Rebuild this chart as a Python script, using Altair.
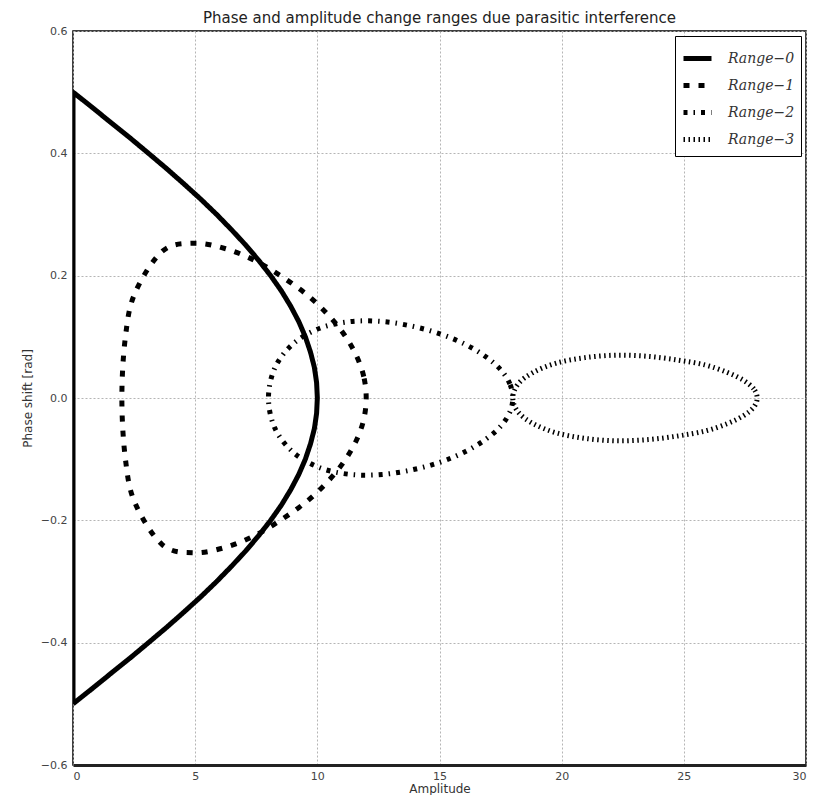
import altair as alt
import pandas as pd

names = ["Range\u22120", "Range\u22121", "Range\u22122", "Range\u22123"]

amp0 = [0.00, 0.79, 1.56, 2.34, 3.09, 3.83, 4.54, 5.23, 5.88, 6.49, 7.07, 7.60, 8.09, 8.53, 8.91, 9.24, 9.51, 9.72, 9.88, 9.97,
        10.00,
        9.97, 9.88, 9.72, 9.51, 9.24, 8.91, 8.53, 8.09, 7.60, 7.07, 6.49, 5.88, 5.23, 4.54, 3.83, 3.09, 2.34, 1.56, 0.79, 0.00,
        0.00]
ph0 = [-0.500, -0.475, -0.450, -0.425, -0.400, -0.375, -0.350, -0.325, -0.300, -0.275, -0.250, -0.225, -0.200, -0.175, -0.150, -0.125, -0.100, -0.075, -0.050, -0.025,
       0.000,
       0.025, 0.050, 0.075, 0.100, 0.125, 0.150, 0.175, 0.200, 0.225, 0.250, 0.275, 0.300, 0.325, 0.350, 0.375, 0.400, 0.425, 0.450, 0.475, 0.500,
       -0.500]

amp1 = [12.00, 11.90, 11.60, 11.11, 10.44, 9.60, 8.60, 7.48, 6.25, 4.95, 3.66, 2.53, 2.14, 2.00, 2.14, 2.53, 3.66, 4.95, 6.25, 7.48, 8.60, 9.60, 10.44, 11.11, 11.60, 11.90]
ph1 = [0.000, 0.035, 0.069, 0.103, 0.136, 0.168, 0.197, 0.224, 0.244, 0.253, 0.240, 0.171, 0.098, 0.000, -0.098, -0.171, -0.240, -0.253, -0.244, -0.224, -0.197, -0.168, -0.136, -0.103, -0.069, -0.035]

amp2 = [18.00, 17.88, 17.51, 16.91, 16.09, 15.09, 13.93, 12.66, 11.36, 10.10, 9.02, 8.27, 8.00, 8.27, 9.02, 10.10, 11.36, 12.66, 13.93, 15.09, 16.09, 16.91, 17.51, 17.88]
ph2 = [0.000, 0.023, 0.046, 0.067, 0.087, 0.104, 0.117, 0.125, 0.125, 0.114, 0.089, 0.050, 0.000, -0.050, -0.089, -0.114, -0.125, -0.125, -0.117, -0.104, -0.087, -0.067, -0.046, -0.023]

amp3 = [28.00, 27.86, 27.44, 26.77, 25.87, 24.77, 23.54, 22.24, 20.95, 19.78, 18.84, 18.22, 18.00, 18.22, 18.84, 19.78, 20.95, 22.24, 23.54, 24.77, 25.87, 26.77, 27.44, 27.86]
ph3 = [0.000, 0.015, 0.029, 0.042, 0.054, 0.062, 0.068, 0.070, 0.066, 0.057, 0.042, 0.023, 0.000, -0.023, -0.042, -0.057, -0.066, -0.070, -0.068, -0.062, -0.054, -0.042, -0.029, -0.015]

x_ticks = [0, 5, 10, 15, 20, 25, 30]
y_ticks = [-0.6, -0.4, -0.2, 0.0, 0.2, 0.4, 0.6]


def frame(name, amps, phs):
    return pd.DataFrame({"series": name, "amp": amps, "phase": phs, "idx": list(range(len(amps)))})


df0 = frame(names[0], amp0, ph0)
df_loops = pd.concat([frame(names[1], amp1, ph1), frame(names[2], amp2, ph2), frame(names[3], amp3, ph3)])

dash_scale = alt.Scale(domain=names, range=[[1, 0], [6, 9], [4, 6, 1.5, 6], [1.5, 3.5]])
legend = alt.Legend(
    title=None, orient="top-right", offset=5, strokeColor="black", fillColor="white",
    padding=6, rowPadding=0, symbolType="stroke", symbolSize=784, symbolStrokeWidth=5,
    symbolStrokeColor="black", labelFont="DejaVu Serif", labelFontStyle="italic",
    labelFontSize=14, labelColor="#333", labelOffset=14, cornerRadius=0,
)

x_enc = alt.X("amp:Q", title="Amplitude", scale=alt.Scale(domain=[0, 30], nice=False),
              axis=alt.Axis(values=x_ticks, format="d"))
y_enc = alt.Y("phase:Q", title="Phase shift [rad]", scale=alt.Scale(domain=[-0.6, 0.6], nice=False),
              axis=alt.Axis(values=y_ticks, format=".1f"))

base_enc = dict(
    x=x_enc, y=y_enc,
    strokeDash=alt.StrokeDash("series:N", scale=dash_scale, legend=legend),
    order=alt.Order("idx:Q"),
    color=alt.value("black"),
)

l0 = alt.Chart(df0).mark_line(strokeWidth=5, clip=True, interpolate="linear").encode(**base_enc)
loops = alt.Chart(df_loops).mark_line(strokeWidth=5, clip=True, interpolate="cardinal-closed").encode(
    detail="series:N", **base_enc
)

chart = alt.layer(l0, loops).properties(
    width=733, height=734,
    title=alt.TitleParams("Phase and amplitude change ranges due parasitic interference",
                          fontSize=15, font="DejaVu Sans", fontWeight="normal", color="#222",
                          anchor="middle", offset=5, dy=6),
    autosize=alt.AutoSizeParams(type="none"),
    padding={"left": 65, "top": 23, "right": 6, "bottom": 30},
).configure_view(
    stroke="black", strokeWidth=1.5
).configure_axis(
    labelFont="DejaVu Sans", labelFontSize=11, labelColor="#444",
    titleFont="DejaVu Sans", titleFontSize=12, titleFontWeight="normal", titleColor="#333",
    grid=True, gridColor="#b5b5b5", gridDash=[2, 2], gridWidth=1,
    ticks=False, domain=False, labelPadding=6,
).configure_axisX(
    domain=True, domainColor="#222", domainWidth=3, titlePadding=2, labelPadding=5
).configure_axisY(
    titlePadding=6
)

chart.save("out.html", embed_options={"renderer": "svg", "actions": False})
